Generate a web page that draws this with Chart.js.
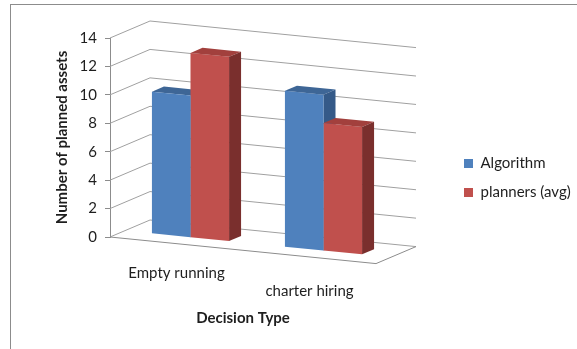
<!DOCTYPE html>
<html lang="en">
<head>
<meta charset="utf-8">
<title>Decision Type</title>
<script src="https://cdn.jsdelivr.net/npm/chart.js@4.4.1/dist/chart.umd.min.js"></script>
<style>
  html, body { margin: 0; padding: 0; background: #fff; overflow: hidden; }
  #wrap { position: relative; width: 577px; height: 349px; overflow: hidden; }
  #graficoDecision { position: absolute; left: 0; top: 0; }
  #marco { position: absolute; left: 10px; top: 4px; width: 700px; height: 500px;
           border-top: 1px solid #8c8c8c; border-left: 1px solid #8c8c8c; pointer-events: none; }
</style>
</head>
<body>
<div id="wrap">
  <canvas id="graficoDecision" width="577" height="349"></canvas>
  <div id="marco"></div>
</div>
<script>
const categories = ["Empty running", ["", "charter hiring"]];
const seriesNames = ["Algorithm", "planners (avg)"];
const algorithm = [10, 11];
const plannersAvg = [13, 9];
const yTicks = [0, 2, 4, 6, 8, 10, 12, 14];

const frontColors = ["#4f81bd", "#c0504d"];
const topColors = ["#3e6696", "#a2403d"];
const sideColors = ["#355a88", "#7a2f2d"];

// oblique projection used for the 3D box: depth vector + slope of the floor
const DEPTH = { x: 40, y: -17 };
const SKEW = 0.1;
const BAR_T0 = 0.35;
const BAR_T1 = 0.65;

function project(area, u, v, t) {
  return [u + t * DEPTH.x, v + t * DEPTH.y + SKEW * (u - area.left)];
}

function fillPoly(ctx, pts, color) {
  ctx.beginPath();
  ctx.moveTo(pts[0][0], pts[0][1]);
  for (let i = 1; i < pts.length; i++) ctx.lineTo(pts[i][0], pts[i][1]);
  ctx.closePath();
  ctx.fillStyle = color;
  ctx.fill();
}

const box3d = {
  id: "box3d",
  beforeDatasetsDraw(chart) {
    const { ctx, chartArea: area, scales } = chart;
    const P = (u, v, t) => project(area, u, v, t);

    ctx.save();
    ctx.lineWidth = 1;
    ctx.strokeStyle = "#a0a0a0";

    // side wall + back wall gridlines
    yTicks.forEach((val) => {
      const v = scales.y.getPixelForValue(val);
      const a = P(area.left, v, 0);
      const b = P(area.left, v, 1);
      const c = P(area.right, v, 1);
      ctx.beginPath();
      ctx.moveTo(a[0], a[1]);
      ctx.lineTo(b[0], b[1]);
      ctx.lineTo(c[0], c[1]);
      ctx.stroke();
    });

    // floor edges
    const v0 = scales.y.getPixelForValue(0);
    const f0 = P(area.left, v0, 0);
    const f1 = P(area.right, v0, 0);
    const f2 = P(area.right, v0, 1);
    ctx.strokeStyle = "#8c8c8c";
    ctx.beginPath();
    ctx.moveTo(f0[0], f0[1]);
    ctx.lineTo(f1[0], f1[1]);
    ctx.lineTo(f2[0], f2[1]);
    ctx.stroke();

    // top and side faces of each column
    chart.data.datasets.forEach((ds, i) => {
      const meta = chart.getDatasetMeta(i);
      meta.data.forEach((bar) => {
        const { x, y, base, width } = bar.getProps(["x", "y", "base", "width"], true);
        const x0 = x - width / 2;
        const x1 = x + width / 2;
        fillPoly(ctx, [P(x0, y, BAR_T0), P(x1, y, BAR_T0), P(x1, y, BAR_T1), P(x0, y, BAR_T1)], topColors[i]);
        fillPoly(ctx, [P(x1, y, BAR_T0), P(x1, y, BAR_T1), P(x1, base, BAR_T1), P(x1, base, BAR_T0)], sideColors[i]);
      });
    });
    ctx.restore();

    // front faces are drawn by Chart.js inside the bar plane
    ctx.save();
    ctx.transform(1, SKEW, 0, 1, BAR_T0 * DEPTH.x, BAR_T0 * DEPTH.y - SKEW * area.left);
  },
  afterDatasetsDraw(chart) {
    chart.ctx.restore();
  }
};

document.addEventListener("DOMContentLoaded", () => {
  const canvas = document.getElementById("graficoDecision");
  const ctx = canvas.getContext("2d");

  Chart.defaults.font.family = "Lato";
  Chart.defaults.font.size = 15;
  Chart.defaults.color = "#1e1e1e";

  new Chart(ctx, {
    type: "bar",
    data: {
      labels: categories,
      datasets: [
        { label: seriesNames[0], data: algorithm, backgroundColor: frontColors[0], yAxisID: "y", clip: false },
        { label: seriesNames[1], data: plannersAvg, backgroundColor: frontColors[1], yAxisID: "y", clip: false }
      ]
    },
    options: {
      responsive: false,
      animation: false,
      layout: { padding: { top: 38, bottom: 31, left: 0, right: 0 } },
      datasets: { bar: { categoryPercentage: 0.58, barPercentage: 1, borderWidth: 0 } },
      plugins: {
        tooltip: { enabled: false },
        legend: {
          position: "right",
          maxWidth: 127,
          labels: { boxWidth: 9, boxHeight: 9, padding: 14 }
        }
      },
      scales: {
        x: {
          grid: { display: false, drawTicks: false },
          border: { display: false },
          ticks: { padding: 27, maxRotation: 0, autoSkip: false },
          title: {
            display: true, text: "Decision Type",
            font: { weight: "bold" }, padding: { top: 0, bottom: -9 }
          },
          afterFit: (s) => { s.height = 81; }
        },
        y: {
          min: 0, max: 14,
          ticks: { stepSize: 2, padding: 8 },
          grid: { drawOnChartArea: false, tickLength: 5, color: "#8c8c8c" },
          border: { color: "#8c8c8c" },
          title: {
            display: true, text: "Number of planned assets",
            font: { weight: "bold" }, padding: { top: 53, bottom: 0 }
          },
          afterFit: (s) => { s.width = 110; }
        },
        gap: {
          position: "right",
          grid: { display: false },
          border: { display: false },
          ticks: { display: false },
          afterFit: (s) => { s.width = 74; }
        }
      }
    },
    plugins: [box3d]
  });
});
</script>
</body>
</html>
